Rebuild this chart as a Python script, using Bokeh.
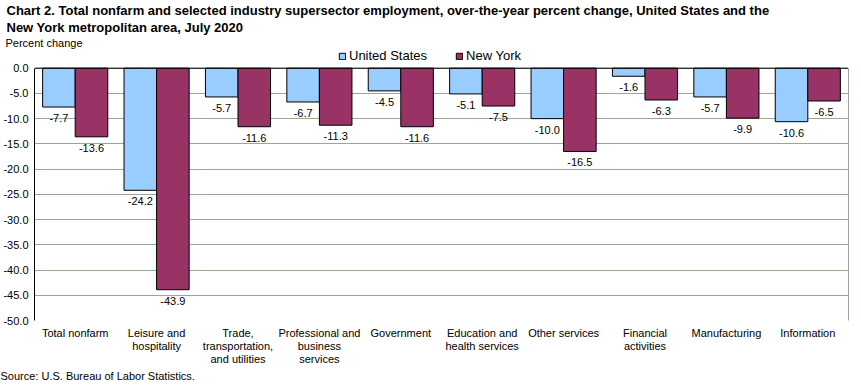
from bokeh.plotting import figure
from bokeh.models import (ColumnDataSource, FactorRange, Range1d, FixedTicker, NumeralTickFormatter,
                          Legend, LegendItem, Title, Span, LinearAxis)
from bokeh.core.properties import value
from bokeh.transform import dodge
from bokeh.embed import file_html
from bokeh.resources import INLINE

categories = ["Total nonfarm", "Leisure and\nhospitality", "Trade,\ntransportation,\nand utilities",
              "Professional and\nbusiness\nservices", "Government", "Education and\nhealth services",
              "Other services", "Financial\nactivities", "Manufacturing", "Information"]
us_values = [-7.7, -24.2, -5.7, -6.7, -4.5, -5.1, -10.0, -1.6, -5.7, -10.6]
ny_values = [-13.6, -43.9, -11.6, -11.3, -11.6, -7.5, -16.5, -6.3, -9.9, -6.5]
y_ticks = [0, -5, -10, -15, -20, -25, -30, -35, -40, -45, -50]

title_line1 = "Chart 2. Total nonfarm and selected industry  supersector  employment, over-the-year percent change, United States and the"
title_line2 = "New York metropolitan area, July 2020"
y_label = "Percent change"
source_note = "Source: U.S. Bureau of Labor Statistics."

FONT = "Liberation Sans"
US_COLOR = "#99ccff"
NY_COLOR = "#993366"
GRID = "#9aa69a"

src = ColumnDataSource(dict(
    cat=categories, us=us_values, ny=ny_values,
    us_lbl=[f"{v:.1f}" for v in us_values], ny_lbl=[f"{v:.1f}" for v in ny_values],
    zero=[0] * len(categories)))

W, H = 849, 374
FW, FH = 814, 272
L, R = 33, 2
Y_TOP = 3.9  # headroom above 0 for the legend row
p = figure(width=W, height=H, frame_width=FW, frame_height=FH,
           x_range=FactorRange(factors=categories), y_range=Range1d(-50, Y_TOP),
           output_backend="svg", toolbar_location=None,
           min_border_left=L, min_border_right=R, min_border_top=0, min_border_bottom=0)
p.background_fill_color = "white"
p.border_fill_color = "white"
p.outline_line_color = None

r_us = p.vbar(x=dodge("cat", -0.2, range=p.x_range), top="zero", bottom="us", width=0.4, source=src,
              fill_color=US_COLOR, line_color="black", line_width=1)
r_ny = p.vbar(x=dodge("cat", 0.2, range=p.x_range), top="zero", bottom="ny", width=0.4, source=src,
              fill_color=NY_COLOR, line_color="black", line_width=1)

for col, lbl, off in (("us", "us_lbl", -0.2), ("ny", "ny_lbl", 0.2)):
    p.text(x=dodge("cat", off, range=p.x_range), y=col, text=lbl, source=src,
           text_align="center", text_baseline="top", y_offset=7,
           text_font_size="11px", text_color="black", text_font=value(FONT))

p.add_layout(Span(location=0, dimension="width", line_color="black", line_width=1))

# axes
p.yaxis.ticker = FixedTicker(ticks=y_ticks)
p.yaxis.bounds = (-50, 0)
p.yaxis.formatter = NumeralTickFormatter(format="0.0")
p.yaxis.major_tick_out = 0
p.yaxis.major_tick_in = 0
p.yaxis.minor_tick_line_color = None
p.yaxis.axis_line_color = "black"
p.yaxis.major_label_standoff = 6
p.yaxis.major_label_text_font = FONT
p.yaxis.major_label_text_font_size = "11px"
p.yaxis.major_label_text_color = "black"

right_axis = LinearAxis(ticker=FixedTicker(ticks=[]), bounds=(-50, 0), axis_line_color=GRID,
                        major_tick_line_color=None, minor_tick_line_color=None,
                        major_label_text_font_size="0px", major_label_standoff=0)
p.add_layout(right_axis, "right")

p.xaxis.axis_line_color = None
p.xaxis.major_tick_line_color = None
p.xaxis.major_tick_out = 0
p.xaxis.major_tick_in = 0
p.xaxis.major_label_standoff = 6
p.xaxis.major_label_text_font = FONT
p.xaxis.major_label_text_font_size = "11px"
p.xaxis.major_label_text_line_height = 1.1
p.xaxis.major_label_text_color = "black"
p.xaxis.major_label_orientation = "horizontal"

p.xgrid.grid_line_color = None
p.ygrid.grid_line_color = GRID
p.ygrid.grid_line_width = 1

# legend in the headroom row at the top of the frame
legend = Legend(items=[LegendItem(label="United States", renderers=[r_us]),
                       LegendItem(label="New York", renderers=[r_ny])],
                orientation="horizontal", location=(304, FH - 15),
                padding=0, margin=0, spacing=28, label_standoff=3,
                glyph_width=8, glyph_height=8, label_height=14,
                label_text_font=FONT, label_text_font_size="13px", label_text_color="black",
                border_line_color=None, background_fill_alpha=0)
p.add_layout(legend, "center")

p.add_layout(Title(text=y_label, align="left", offset=-29, standoff=0, text_color="black",
                   text_font=FONT, text_font_size="11px", text_font_style="normal"), "above")
p.add_layout(Title(text=title_line2, align="left", offset=-28, standoff=0, text_color="black",
                   text_font=FONT, text_font_size="13px", text_font_style="bold"), "above")
p.add_layout(Title(text=title_line1, align="left", offset=-28, standoff=0, text_color="black",
                   text_font=FONT, text_font_size="13px", text_font_style="bold"), "above")

p.add_layout(Title(text=source_note, align="left", offset=-34, standoff=0, text_color="black",
                   text_font=FONT, text_font_size="11px", text_font_style="normal"), "below")

open("out.html", "w").write(file_html(p, INLINE))
